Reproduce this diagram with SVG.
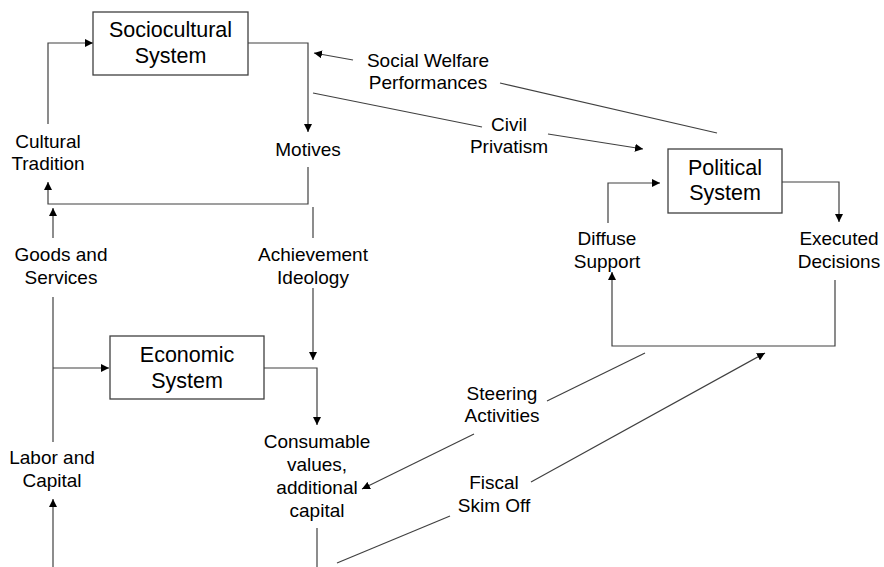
<svg xmlns="http://www.w3.org/2000/svg" width="884" height="567" viewBox="0 0 884 567">
<style>
.box{fill:#fff;stroke:#404040;stroke-width:1.3}
.bt{font-family:"Liberation Sans",Arial,sans-serif;font-size:21.5px;fill:#000;text-anchor:middle}
.lt{font-family:"Liberation Sans",Arial,sans-serif;font-size:19px;fill:#000;text-anchor:middle}
.c{fill:none;stroke:#404040;stroke-width:1.2}
</style>
<defs>
<marker id="ah" viewBox="0 0 10 10" refX="10" refY="5" markerWidth="8" markerHeight="8" markerUnits="userSpaceOnUse" orient="auto">
<path d="M0,0 L10,5 L0,10 Z" fill="#000"/>
</marker>
</defs>
<rect width="884" height="567" fill="#fff"/>
<g id="connectors">
<path class="c" d="M48,124 V43 H93" marker-end="url(#ah)"/>
<path class="c" d="M248,43 H308 V132" marker-end="url(#ah)"/>
<path class="c" d="M308,167 V204 H48 V182" marker-end="url(#ah)"/>
<path class="c" d="M53,238 V208" marker-end="url(#ah)"/>
<path class="c" d="M313,207 V238"/>
<path class="c" d="M313,288 V360" marker-end="url(#ah)"/>
<path class="c" d="M53,297 V442"/>
<path class="c" d="M53,368 H109" marker-end="url(#ah)"/>
<path class="c" d="M53,567 V499" marker-end="url(#ah)"/>
<path class="c" d="M264,368 H317 V425" marker-end="url(#ah)"/>
<path class="c" d="M317,528 V567"/>
<path class="c" d="M337,563 L450,516"/>
<path class="c" d="M531,482 L765,353" marker-end="url(#ah)"/>
<path class="c" d="M645,353 L547,401"/>
<path class="c" d="M474,434 L362,489" marker-end="url(#ah)"/>
<path class="c" d="M835,280 V346 H612 V272" marker-end="url(#ah)"/>
<path class="c" d="M608,223 V183 H660" marker-end="url(#ah)"/>
<path class="c" d="M782,182 H839 V222" marker-end="url(#ah)"/>
<path class="c" d="M313,93 L482,127"/>
<path class="c" d="M548,134 L643,149" marker-end="url(#ah)"/>
<path class="c" d="M717,133 L500,83"/>
<path class="c" d="M353,60 L314,53" marker-end="url(#ah)"/>
</g>
<g id="sociocultural">
<rect class="box" x="93" y="12" width="155" height="63"/>
<text class="bt" x="170.5" y="37">Sociocultural</text>
<text class="bt" x="170.5" y="63">System</text>
</g>
<g id="economic">
<rect class="box" x="110" y="336" width="154" height="63"/>
<text class="bt" x="187" y="362">Economic</text>
<text class="bt" x="187" y="388">System</text>
</g>
<g id="political">
<rect class="box" x="668" y="149" width="114" height="64"/>
<text class="bt" x="725" y="175">Political</text>
<text class="bt" x="725" y="200">System</text>
</g>
<g id="cultural-tradition">
<text class="lt" x="48" y="148">Cultural</text>
<text class="lt" x="48" y="170">Tradition</text>
</g>
<g id="motives">
<text class="lt" x="308" y="156">Motives</text>
</g>
<g id="goods-services">
<text class="lt" x="61" y="261">Goods and</text>
<text class="lt" x="61" y="284">Services</text>
</g>
<g id="achievement-ideology">
<text class="lt" x="313" y="261">Achievement</text>
<text class="lt" x="313" y="284">Ideology</text>
</g>
<g id="labor-capital">
<text class="lt" x="52" y="464">Labor and</text>
<text class="lt" x="52" y="487">Capital</text>
</g>
<g id="consumable">
<text class="lt" x="317" y="448">Consumable</text>
<text class="lt" x="317" y="471">values,</text>
<text class="lt" x="317" y="494">additional</text>
<text class="lt" x="317" y="517">capital</text>
</g>
<g id="social-welfare">
<text class="lt" x="428" y="67">Social Welfare</text>
<text class="lt" x="428" y="89">Performances</text>
</g>
<g id="civil-privatism">
<text class="lt" x="509" y="131">Civil</text>
<text class="lt" x="509" y="153">Privatism</text>
</g>
<g id="diffuse-support">
<text class="lt" x="607" y="245">Diffuse</text>
<text class="lt" x="607" y="268">Support</text>
</g>
<g id="executed-decisions">
<text class="lt" x="839" y="245">Executed</text>
<text class="lt" x="839" y="268">Decisions</text>
</g>
<g id="steering">
<text class="lt" x="502" y="400">Steering</text>
<text class="lt" x="502" y="422">Activities</text>
</g>
<g id="fiscal">
<text class="lt" x="494" y="489">Fiscal</text>
<text class="lt" x="494" y="512">Skim Off</text>
</g>
</svg>
